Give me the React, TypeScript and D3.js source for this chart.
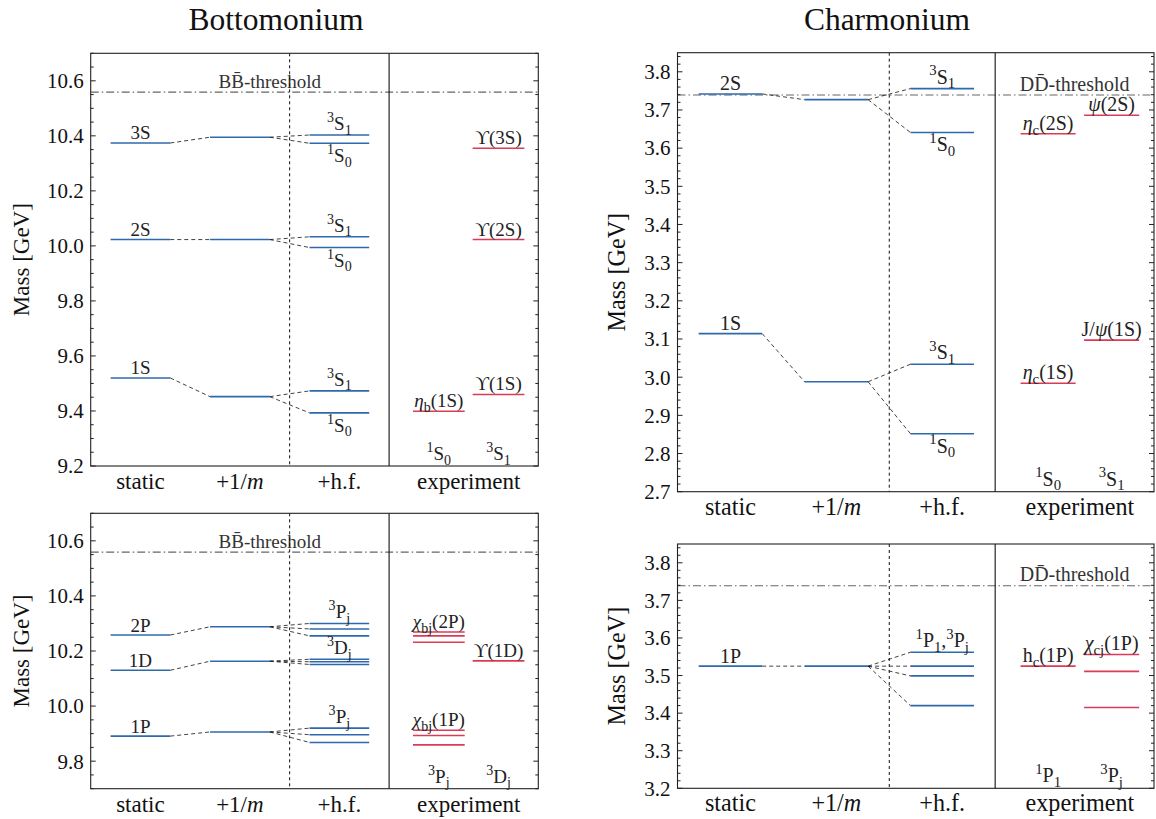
import React from "react";
import * as d3 from "d3";

// x positions (data units, 0..4.5): columns and their labels
const columnLabels = ["static", "+1/~m~", "+h.f.", "experiment"];
const columnPos = [0.5, 1.5, 2.5, 3.8];

// ---- Bottomonium, S-wave ----
const bsNames = ["3S", "2S", "1S"];
const bsStatic = [10.374, 10.023, 9.52];
const bsOneOverM = [10.395, 10.023, 9.452];
const bsHyperfine = [
  [10.403, 10.373],
  [10.033, 9.994],
  [9.473, 9.393],
];
const bsHfAbove = ["^3S_1", "^3S_1", "^3S_1"];
const bsHfBelow = ["^1S_0", "^1S_0", "^1S_0"];
const bsExpLeft = [[9.399]];
const bsExpLeftLabels = ["η_b(1S)"];
const bsExpRight = [[10.355], [10.023], [9.46]];
const bsExpRightLabels = ["ϒ(3S)", "ϒ(2S)", "ϒ(1S)"];
const bsHeaders = ["^1S_0", "^3S_1"];

// ---- Bottomonium, P/D-wave ----
const bpNames = ["2P", "1D", "1P"];
const bpStatic = [10.258, 10.13, 9.891];
const bpOneOverM = [10.288, 10.163, 9.906];
const bpHyperfine = [
  [10.3, 10.28, 10.255],
  [10.17, 10.161, 10.151],
  [9.92, 9.896, 9.868],
];
const bpHfAbove = ["^3P_j", "^3D_j", "^3P_j"];
const bpHfBelow = ["", "", ""];
const bpExpLeft = [
  [10.269, 10.255, 10.232],
  [9.912, 9.893, 9.859],
];
const bpExpLeftLabels = ["χ_{bj}(2P)", "χ_{bj}(1P)"];
const bpExpRight = [[10.164]];
const bpExpRightLabels = ["ϒ(1D)"];
const bpHeaders = ["^3P_j", "^3D_j"];

// ---- Charmonium, S-wave ----
const csNames = ["2S", "1S"];
const csStatic = [3.742, 3.114];
const csOneOverM = [3.727, 2.988];
const csHyperfine = [
  [3.756, 3.641],
  [3.034, 2.852],
];
const csHfAbove = ["^3S_1", "^3S_1"];
const csHfBelow = ["^1S_0", "^1S_0"];
const csExpLeft = [[3.6375], [2.984]];
const csExpLeftLabels = ["η_c(2S)", "η_c(1S)"];
const csExpRight = [[3.686], [3.097]];
const csExpRightLabels = ["ψ(2S)", "J/ψ(1S)"];
const csHeaders = ["^1S_0", "^3S_1"];

// ---- Charmonium, P-wave ----
const cpNames = ["1P"];
const cpStatic = [3.525];
const cpOneOverM = [3.525];
const cpHyperfine = [[3.562, 3.525, 3.499, 3.42]];
const cpHfAbove = ["^1P_1,^3P_j"];
const cpHfBelow = [""];
const cpExpLeft = [[3.525]];
const cpExpLeftLabels = ["h_c(1P)"];
const cpExpRight = [[3.556, 3.511, 3.415]];
const cpExpRightLabels = ["χ_{cj}(1P)"];
const cpHeaders = ["^1P_1", "^3P_j"];

const bbThreshold = 10.559;
const ddThreshold = 3.739;

const BLUE = "#2e6aab";
const RED = "#dc3a55";
const FONT = "'Liberation Serif', 'DejaVu Serif', serif";

type Seg = { t: string; mode: number; italic: boolean };

// tiny markup: ^x / ^{..} superscript, _x / _{..} subscript, ~..~ italic
function parseLabel(s: string): Seg[] {
  const out: Seg[] = [];
  let italic = false;
  let i = 0;
  let buf = "";
  const flush = () => {
    if (buf) out.push({ t: buf, mode: 0, italic });
    buf = "";
  };
  while (i < s.length) {
    const ch = s[i];
    if (ch === "^" || ch === "_") {
      flush();
      let t = "";
      if (s[i + 1] === "{") {
        const end = s.indexOf("}", i);
        t = s.slice(i + 2, end);
        i = end + 1;
      } else {
        t = s[i + 1];
        i += 2;
      }
      out.push({ t, mode: ch === "^" ? 1 : -1, italic: false });
    } else if (ch === "~") {
      flush();
      italic = !italic;
      i++;
    } else if ("ηψχ".includes(ch)) {
      flush();
      out.push({ t: ch, mode: 0, italic: true });
      i++;
    } else {
      buf += ch;
      i++;
    }
  }
  flush();
  return out;
}

function Label({ x, y, text, size, anchor = "middle", fill = "#222" }: any) {
  const segs = parseLabel(text);
  let prev = 0;
  return (
    <text x={x} y={y} textAnchor={anchor} fontSize={size} fontFamily={FONT} fill={fill}>
      {segs.map((s, k) => {
        const off = s.mode === 1 ? -0.42 * size : s.mode === -1 ? 0.24 * size : 0;
        const dy = off - prev;
        prev = off;
        return (
          <tspan
            key={k}
            dy={dy}
            fontSize={s.mode ? size * 0.74 : size}
            fontStyle={s.italic ? "italic" : "normal"}
          >
            {s.t}
          </tspan>
        );
      })}
    </text>
  );
}

function Panel(p: any) {
  const fs = p.fontScale || 1;
  const LBL = 19 * fs;
  const x = d3.scaleLinear().domain([0, 4.5]).range([p.left, p.right]);
  const y = d3.scaleLinear().domain(p.yDomain).range([p.bottom, p.top]);
  const [lo, hi] = p.yDomain;
  const minorTicks = d3
    .range(Math.ceil(lo / p.minor - 1e-6), Math.floor(hi / p.minor + 1e-6) + 1)
    .map((k: number) => k * p.minor);
  const isMajor = (v: number) => Math.abs(v / p.major - Math.round(v / p.major)) < 1e-6;
  const majorTicks = minorTicks.filter(isMajor);
  const fmt = d3.format(".1f");
  const lvl = (x0: number, x1: number, v: number, color: string, key: string) => (
    <line key={key} x1={x(x0)} x2={x(x1)} y1={y(v)} y2={y(v)} stroke={color} strokeWidth={1.6} />
  );
  const dash = (x0: number, v0: number, x1: number, v1: number, key: string) => (
    <line
      key={key}
      x1={x(x0)}
      y1={y(v0)}
      x2={x(x1)}
      y2={y(v1)}
      stroke="#111"
      strokeWidth={0.8}
      strokeDasharray="4,3"
    />
  );
  const midY = (p.top + p.bottom) / 2;
  return (
    <g>
      {/* threshold */}
      <line
        x1={x(0)}
        x2={x(4.5)}
        y1={y(p.threshold)}
        y2={y(p.threshold)}
        stroke="#666"
        strokeWidth={1.1}
        strokeDasharray="8,3,1.5,3"
      />
      <Label x={x(p.thresholdX)} y={y(p.threshold) - 4.5} text={p.thresholdLabel} size={LBL} fill="#333" />
      {/* separators */}
      <line x1={x(2)} x2={x(2)} y1={p.top} y2={p.bottom} stroke="#111" strokeWidth={1} strokeDasharray="3,3" />
      <line x1={x(3)} x2={x(3)} y1={p.top} y2={p.bottom} stroke="#111" strokeWidth={1.1} />
      {/* static and 1/m levels with connectors */}
      {p.statics.map((v: number, i: number) => (
        <g key={"s" + i}>
          {lvl(0.2, 0.8, v, BLUE, "a")}
          {lvl(1.2, 1.8, p.oneOverM[i], BLUE, "b")}
          {dash(0.8, v, 1.2, p.oneOverM[i], "c")}
          <Label x={x(0.5)} y={y(v) - 3.5} text={p.names[i]} size={LBL} />
          {p.hf[i].map((h: number, j: number) => (
            <g key={j}>
              {lvl(2.2, 2.8, h, BLUE, "h")}
              {dash(1.8, p.oneOverM[i], 2.2, h, "d")}
            </g>
          ))}
          {p.hfAbove[i] && (
            <Label x={x(2.5)} y={y(d3.max(p.hf[i]) as number) - 5} text={p.hfAbove[i]} size={LBL} />
          )}
          {p.hfBelow[i] && (
            <Label x={x(2.5)} y={y(d3.min(p.hf[i]) as number) + 19} text={p.hfBelow[i]} size={LBL} />
          )}
        </g>
      ))}
      {/* experiment */}
      {p.expLeft.map((grp: number[], i: number) => (
        <g key={"el" + i}>
          {grp.map((v, j) => lvl(3.24, 3.76, v, RED, "l" + j))}
          <Label x={x(3.5)} y={y(d3.max(grp) as number) - 4} text={p.expLeftLabels[i]} size={LBL} />
        </g>
      ))}
      {p.expRight.map((grp: number[], i: number) => (
        <g key={"er" + i}>
          {grp.map((v, j) => lvl(3.84, 4.36, v, RED, "r" + j))}
          <Label x={x(4.1)} y={y(d3.max(grp) as number) - 4} text={p.expRightLabels[i]} size={LBL} />
        </g>
      ))}
      <Label x={x(3.5)} y={p.bottom - 6} text={p.headers[0]} size={LBL} />
      <Label x={x(4.1)} y={p.bottom - 6} text={p.headers[1]} size={LBL} />
      {/* frame */}
      <rect
        x={p.left}
        y={p.top}
        width={p.right - p.left}
        height={p.bottom - p.top}
        fill="none"
        stroke="#222"
        strokeWidth={1.1}
      />
      {/* y ticks */}
      {minorTicks.map((v: number, k: number) => {
        const len = isMajor(v) ? 5 : 3;
        return (
          <g key={"t" + k}>
            <line x1={p.left} x2={p.left + len} y1={y(v)} y2={y(v)} stroke="#222" strokeWidth={1} />
            <line x1={p.right} x2={p.right - len} y1={y(v)} y2={y(v)} stroke="#222" strokeWidth={1} />
          </g>
        );
      })}
      {majorTicks.map((v: number, k: number) => (
        <text
          key={"tl" + k}
          x={p.left - 7}
          y={y(v)}
          dy="0.35em"
          textAnchor="end"
          fontSize={21}
          fontFamily={FONT}
          fill="#111"
        >
          {fmt(v)}
        </text>
      ))}
      {/* x labels */}
      {columnLabels.map((c, k) => (
        <Label key={"c" + k} x={x(columnPos[k])} y={p.bottom + 23} text={c} size={23 * fs} fill="#111" />
      ))}
      <text
        transform={`translate(${p.yLabelX},${midY}) rotate(-90)`}
        textAnchor="middle"
        dy="0.35em"
        fontSize={23 * fs}
        fontFamily={FONT}
        fill="#111"
      >
        Mass [GeV]
      </text>
    </g>
  );
}

export default function App() {
  const bThr = "BB\u0304-threshold";
  const dThr = "DD\u0304-threshold";
  return (
    <svg
      width={1156}
      height={819}
      style={{ position: "absolute", left: 0, top: 0, background: "#fff" }}
    >
      <text x={276} y={30} textAnchor="middle" fontSize={31.5} fontFamily={FONT} fill="#111">
        Bottomonium
      </text>
      <text x={887} y={30} textAnchor="middle" fontSize={31.5} fontFamily={FONT} fill="#111">
        Charmonium
      </text>
      <Panel
        left={90.7}
        right={538.3}
        top={53.3}
        bottom={466}
        yDomain={[9.2, 10.7]}
        major={0.2}
        minor={0.05}
        yLabelX={21}
        threshold={bbThreshold}
        thresholdLabel={bThr}
        thresholdX={1.8}
        names={bsNames}
        statics={bsStatic}
        oneOverM={bsOneOverM}
        hf={bsHyperfine}
        hfAbove={bsHfAbove}
        hfBelow={bsHfBelow}
        expLeft={bsExpLeft}
        expLeftLabels={bsExpLeftLabels}
        expRight={bsExpRight}
        expRightLabels={bsExpRightLabels}
        headers={bsHeaders}
      />
      <Panel
        left={90.7}
        right={538.3}
        top={513.3}
        bottom={788.7}
        yDomain={[9.7, 10.7]}
        major={0.2}
        minor={0.05}
        yLabelX={21}
        threshold={bbThreshold}
        thresholdLabel={bThr}
        thresholdX={1.8}
        names={bpNames}
        statics={bpStatic}
        oneOverM={bpOneOverM}
        hf={bpHyperfine}
        hfAbove={bpHfAbove}
        hfBelow={bpHfBelow}
        expLeft={bpExpLeft}
        expLeftLabels={bpExpLeftLabels}
        expRight={bpExpRight}
        expRightLabels={bpExpRightLabels}
        headers={bpHeaders}
      />
      <Panel
        left={677.5}
        right={1154}
        top={52.7}
        bottom={491.7}
        yDomain={[2.7, 3.85]}
        major={0.1}
        minor={0.02}
        yLabelX={617}
        fontScale={1.05}
        threshold={ddThreshold}
        thresholdLabel={dThr}
        thresholdX={3.75}
        names={csNames}
        statics={csStatic}
        oneOverM={csOneOverM}
        hf={csHyperfine}
        hfAbove={csHfAbove}
        hfBelow={csHfBelow}
        expLeft={csExpLeft}
        expLeftLabels={csExpLeftLabels}
        expRight={csExpRight}
        expRightLabels={csExpRightLabels}
        headers={csHeaders}
      />
      <Panel
        left={677.5}
        right={1154}
        top={544}
        bottom={788.3}
        yDomain={[3.2, 3.85]}
        major={0.1}
        minor={0.02}
        yLabelX={617}
        fontScale={1.05}
        threshold={ddThreshold}
        thresholdLabel={dThr}
        thresholdX={3.75}
        names={cpNames}
        statics={cpStatic}
        oneOverM={cpOneOverM}
        hf={cpHyperfine}
        hfAbove={cpHfAbove}
        hfBelow={cpHfBelow}
        expLeft={cpExpLeft}
        expLeftLabels={cpExpLeftLabels}
        expRight={cpExpRight}
        expRightLabels={cpExpRightLabels}
        headers={cpHeaders}
      />
    </svg>
  );
}
